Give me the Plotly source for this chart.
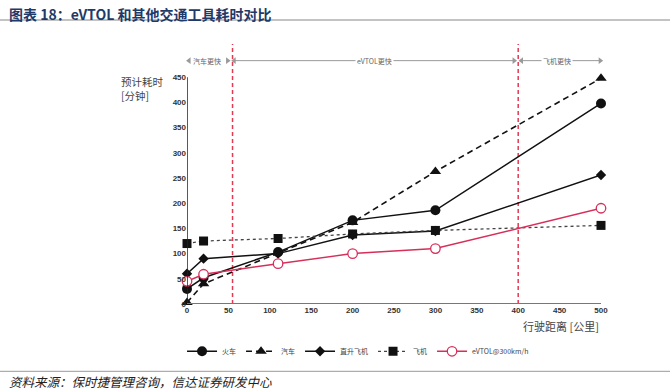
import plotly.graph_objects as go

# ---- data ----
train_x = [0, 20, 110, 200, 300, 500]
train_y = [30, 52, 103, 166, 186, 398]
car_x = [0, 20, 200, 300, 500]
car_y = [3, 40, 162, 263, 448]
heli_x = [0, 20, 110, 200, 300, 500]
heli_y = [60, 90, 100, 137, 145, 256]
plane_x = [0, 20, 110, 200, 300, 500]
plane_y = [120, 125, 130, 139, 146, 156]
evtol_x = [0, 20, 110, 200, 300, 500]
evtol_y = [45, 59, 80, 100, 110, 190]
series_names = ["火车", "汽车", "直升飞机", "飞机", "eVTOL@300km/h"]
split_x = [55, 400]
region_labels = ["汽车更快", "eVTOL更快", "飞机更快"]
region_centers = [24.5, 227, 447]
region_ends = [(2.5, 49), (57, 395), (404, 499)]
x_ticks = list(range(0, 501, 50))
y_ticks = list(range(0, 451, 50))

PINK = "#d62f5a"
RED = "#e23a52"
CJK = "Noto Sans CJK SC"
fig = go.Figure()

fig.add_trace(go.Scatter(x=train_x, y=train_y, name=series_names[0], mode="lines+markers",
                         line=dict(color="#111", width=1.5),
                         marker=dict(symbol="circle", size=10, color="#111"), cliponaxis=False))
fig.add_trace(go.Scatter(x=car_x, y=car_y, name=series_names[1], mode="lines+markers",
                         line=dict(color="#111", width=1.6, dash="6px,4px"),
                         marker=dict(symbol="triangle-up", size=10, color="#111"), cliponaxis=False))
fig.add_trace(go.Scatter(x=heli_x, y=heli_y, name=series_names[2], mode="lines+markers",
                         line=dict(color="#111", width=1.5),
                         marker=dict(symbol="diamond", size=8, color="#111"), cliponaxis=False))
fig.add_trace(go.Scatter(x=plane_x, y=plane_y, name=series_names[3], mode="lines+markers",
                         line=dict(color="#444", width=1.3, dash="3px,3px"),
                         marker=dict(symbol="square", size=9, color="#111"), cliponaxis=False))
fig.add_trace(go.Scatter(x=evtol_x, y=evtol_y, name=series_names[4], mode="lines+markers",
                         line=dict(color=PINK, width=1.5),
                         marker=dict(symbol="circle", size=9.5, color="white",
                                     line=dict(color=PINK, width=1.3)), cliponaxis=False))

# region arrows
ARROW_Y = 483
GRAY = "#9a9a9a"
for i, (a, b) in enumerate(region_ends):
    if i > 0:
        fig.add_trace(go.Scatter(x=[a, b], y=[ARROW_Y, ARROW_Y], mode="lines",
                                 line=dict(color=GRAY, width=1), showlegend=False,
                                 hoverinfo="skip", cliponaxis=False))
    fig.add_trace(go.Scatter(x=[a], y=[ARROW_Y], mode="markers",
                             marker=dict(symbol="triangle-left", size=6, color=GRAY),
                             showlegend=False, hoverinfo="skip", cliponaxis=False))
    fig.add_trace(go.Scatter(x=[b], y=[ARROW_Y], mode="markers",
                             marker=dict(symbol="triangle-right", size=6, color=GRAY),
                             showlegend=False, hoverinfo="skip", cliponaxis=False))
    fig.add_annotation(x=region_centers[i], y=ARROW_Y, xref="x", yref="y",
                       text=region_labels[i], showarrow=False, bgcolor="white",
                       borderpad=1, font=dict(size=7, color="#666", family=CJK))

# vertical split lines
for sx in split_x:
    fig.add_shape(type="line", x0=sx, x1=sx, y0=0, y1=516, xref="x", yref="y",
                  line=dict(color=RED, width=1.5, dash="4px,3px"), layer="below")

# axis lines
fig.add_shape(type="line", x0=0, x1=0, y0=0, y1=450, xref="x", yref="y",
              line=dict(color="#222", width=1.5))
fig.add_shape(type="line", x0=-2, x1=500, y0=0, y1=0, xref="x", yref="y",
              line=dict(color="#777", width=2))

PW, PH = 414, 262
# header rule
fig.add_shape(type="line", x0=-187 / PW, x1=(670 - 187) / PW, y0=1 + (42 - 20) / PH, y1=1 + (42 - 20) / PH,
              xref="paper", yref="paper", line=dict(color="#888", width=1.2))

fig.add_annotation(text="<b>图表 18：eVTOL 和其他交通工具耗时对比</b>", xref="paper", yref="paper",
                   x=-187 / PW + 7 / PW, y=1 + (42 - 2) / PH, xanchor="left", yanchor="top",
                   showarrow=False, font=dict(size=14, color="#1f3a68", family=CJK))
fig.add_annotation(text="<i>资料来源：保时捷管理咨询，信达证券研发中心</i>", xref="paper", yref="paper",
                   x=-187 / PW + 7 / PW, y=-(381 - 303.7) / PH, xanchor="left", yanchor="middle",
                   showarrow=False, font=dict(size=12.5, color="#222", family=CJK))
fig.add_shape(type="line", x0=-187 / PW, x1=(670 - 187) / PW, y0=-(371 - 303.7) / PH,
              y1=-(371 - 303.7) / PH, xref="paper", yref="paper",
              line=dict(color="#999", width=1))

# axis titles
fig.add_annotation(text="预计耗时<br>[分钟]", xref="paper", yref="paper",
                   x=-(187 - 119) / PW, y=1 - (72 - 42) / PH, xanchor="left", yanchor="top",
                   align="left", showarrow=False,
                   font=dict(size=10.5, color="#444", family=CJK))
fig.add_annotation(text="行驶距离 [公里]", xref="paper", yref="paper",
                   x=1.0, y=-(326 - 303.7) / PH, xanchor="right", yanchor="middle",
                   showarrow=False, font=dict(size=11, color="#444", family=CJK))

fig.update_layout(
    width=670, height=392,
    margin=dict(l=187, r=69, t=42, b=88, autoexpand=False),
    paper_bgcolor="white", plot_bgcolor="white",
    font=dict(family="Liberation Sans", color="#333"),
    xaxis=dict(range=[0, 500], tickvals=x_ticks, showgrid=False, zeroline=False,
               showline=False, ticks="", tickfont=dict(size=8, weight="bold", color="#333")),
    yaxis=dict(range=[0, 520], tickvals=y_ticks, showgrid=False, zeroline=False,
               showline=False, ticks="", tickfont=dict(size=8, weight="bold", color="#333")),
    legend=dict(orientation="h", x=-0.012, y=-(351 - 303.7) / PH, xanchor="left",
                yanchor="middle", font=dict(size=7, color="#444", family=CJK),
                itemwidth=30, tracegroupgap=0),
    showlegend=True,
)

fig.write_html("out.html", config={"displayModeBar": False},
               post_script="document.body.style.margin='0';")
